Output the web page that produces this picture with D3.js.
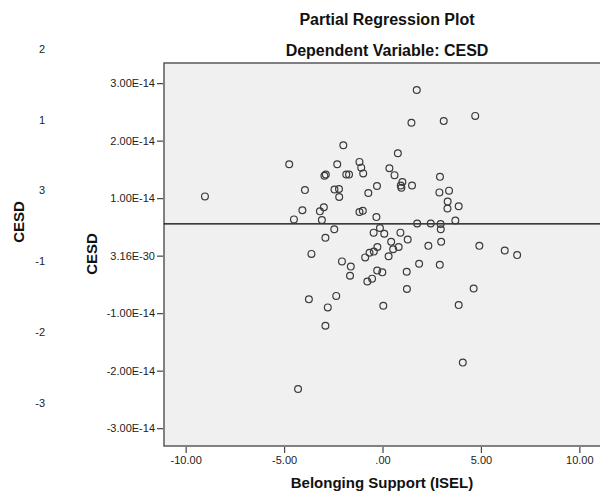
<!DOCTYPE html>
<html>
<head>
<meta charset="utf-8">
<script src="https://cdn.jsdelivr.net/npm/d3@7"></script>
<style>
  html, body { margin: 0; padding: 0; background: #fff; }
  svg { display: block; font-family: "Liberation Sans", Arial, sans-serif; }
</style>
</head>
<body>
<svg id="chart" width="600" height="495"></svg>
<script>
// Partial regression of CESD on Belonging Support (ISEL).
// Residual values: x in ISEL units, y in units of 1e-14.
const iselResid = [
  -9.02, -4.74, -4.50, -4.07, -3.94, -3.61, -3.74, -4.29, -3.18, -3.08,
  -2.98, -2.95, -2.88, -2.90, -2.90, -2.78, -2.45, -2.44, -2.21, -2.20,
  -2.35, -2.30, -2.06, -1.99, -1.84, -1.70, -1.61, -1.65, -1.17, -1.08,
  -0.98, -1.17, -1.00, -0.88, -0.66, -0.44, -0.26, -0.77, -0.53, -0.27,
  -0.01, -0.72, -0.28, -0.31, -0.45, -0.13, 0.09, 0.04, 0.31, 0.35,
  0.44, 0.54, 0.82, 0.61, 0.78, 0.91, 1.01, 0.93, 0.96, 1.28,
  1.23, 1.24, 1.47, 1.50, 1.74, 1.76, 1.86, 2.33, 2.45, 2.92,
  2.89, 2.95, 2.96, 2.98, 2.91, 3.11, 3.31, 3.30, 3.38, 3.70,
  3.87, 3.87, 4.08, 4.63, 4.71, 4.92, 6.21, 6.84
];
const cesdResid = [
  1.03, 1.59, 0.63, 0.79, 1.14, 0.03, -0.76, -2.32, 0.77, 0.62,
  0.84, 1.39, 1.41, 0.31, -1.22, -0.90, 0.46, 1.15, 1.16, 1.02,
  -0.70, 1.59, -0.10, 1.92, 1.41, 1.41, -0.19, -0.35, 1.63, 1.53,
  1.43, 0.76, 0.78, -0.03, 0.05, 0.07, 0.15, -0.45, -0.40, -0.26,
  -0.29, 1.09, 1.21, 0.67, 0.40, 0.48, 0.38, -0.87, -0.01, 1.52,
  0.24, 0.11, 0.15, 1.40, 1.78, 0.40, 1.28, 1.22, 1.18, 0.28,
  -0.28, -0.58, 2.31, 1.22, 2.88, 0.56, -0.14, 0.17, 0.56, 1.37,
  1.10, 0.55, 0.46, 0.24, -0.16, 2.34, 0.94, 0.82, 1.13, 0.61,
  0.86, -0.86, -1.86, -0.57, 2.43, 0.17, 0.09, 0.01
];
// Fitted line (slope ~0) in the same 1e-14 units.
const fitSlope = 0;
const fitIntercept = 0.553;

const xTickValues = [-10, -5, 0, 5, 10];
const xTickLabels = ["-10.00", "-5.00", ".00", "5.00", "10.00"];
const yTickValues = [3, 2, 1, 0, -1, -2, -3];
const yTickLabels = ["3.00E-14", "2.00E-14", "1.00E-14", "3.16E-30", "-1.00E-14", "-2.00E-14", "-3.00E-14"];
const outerAxisLabels = ["2", "1", "3", "-1", "-2", "-3"];

const svg = d3.select("#chart");
const plot = { left: 164, top: 63, right: 601, bottom: 446 };

const x = d3.scaleLinear().domain([-11.1, 11.1]).range([plot.left, plot.right]);
const y = d3.scaleLinear().domain([-3.31, 3.35]).range([plot.bottom, plot.top]);

// Plot panel
svg.append("rect")
  .attr("x", plot.left).attr("y", plot.top)
  .attr("width", plot.right - plot.left).attr("height", plot.bottom - plot.top)
  .attr("fill", "#f0f0f0")
  .attr("stroke", "#5a5a5a").attr("stroke-width", 1.5);

// Titles
svg.append("text").attr("x", 387).attr("y", 25)
  .attr("text-anchor", "middle").attr("font-size", 16).attr("font-weight", "bold")
  .attr("fill", "#111").text("Partial Regression Plot");
svg.append("text").attr("x", 387).attr("y", 56)
  .attr("text-anchor", "middle").attr("font-size", 16).attr("font-weight", "bold")
  .attr("fill", "#111").text("Dependent Variable: CESD");

// Y axis
const yAxis = d3.axisLeft(y)
  .tickValues(yTickValues)
  .tickFormat((d, i) => yTickLabels[i])
  .tickSize(6).tickPadding(2);
const gy = svg.append("g").attr("transform", `translate(${plot.left - 1},0)`).call(yAxis);
gy.select(".domain").remove();
gy.selectAll(".tick line").attr("stroke", "#444").attr("stroke-width", 1.2);
gy.selectAll(".tick text").attr("font-size", 11).attr("fill", "#222")
  .attr("font-family", "'Liberation Sans', Arial, sans-serif");

// X axis
const xAxis = d3.axisBottom(x)
  .tickValues(xTickValues)
  .tickFormat((d, i) => xTickLabels[i])
  .tickSize(6).tickPadding(3);
const gx = svg.append("g").attr("transform", `translate(0,${plot.bottom + 1})`).call(xAxis);
gx.select(".domain").remove();
gx.selectAll(".tick line").attr("stroke", "#444").attr("stroke-width", 1.2);
gx.selectAll(".tick text").attr("font-size", 11).attr("fill", "#222")
  .attr("font-family", "'Liberation Sans', Arial, sans-serif");

// Axis titles
svg.append("text").attr("x", 382).attr("y", 488)
  .attr("text-anchor", "middle").attr("font-size", 15).attr("font-weight", "bold")
  .attr("fill", "#111").text("Belonging Support (ISEL)");
svg.append("text")
  .attr("transform", "translate(97,254) rotate(-90)")
  .attr("text-anchor", "middle").attr("font-size", 15).attr("font-weight", "bold")
  .attr("fill", "#111").text("CESD");

// Outer CESD axis labels
const outer = d3.scalePoint().domain(outerAxisLabels).range([49, 403]);
svg.append("g").selectAll("text").data(outerAxisLabels).join("text")
  .attr("x", 45).attr("y", d => outer(d)).attr("dy", "0.35em")
  .attr("text-anchor", "end").attr("font-size", 11).attr("fill", "#222")
  .text(d => d);
svg.append("text")
  .attr("transform", "translate(24,222) rotate(-90)")
  .attr("text-anchor", "middle").attr("font-size", 15).attr("font-weight", "bold")
  .attr("fill", "#111").text("CESD");

// Fit line
const clip = svg.append("clipPath").attr("id", "plot-clip").append("rect")
  .attr("x", plot.left).attr("y", plot.top)
  .attr("width", plot.right - plot.left).attr("height", plot.bottom - plot.top);
const xd = x.domain();
svg.append("line")
  .attr("clip-path", "url(#plot-clip)")
  .attr("x1", x(xd[0])).attr("x2", x(xd[1]))
  .attr("y1", y(fitIntercept + fitSlope * xd[0]))
  .attr("y2", y(fitIntercept + fitSlope * xd[1]))
  .attr("stroke", "#000").attr("stroke-width", 1.2);

// Points
const points = iselResid.map((v, i) => ({ x: v, y: cesdResid[i] }));
svg.append("g").selectAll("circle").data(points).join("circle")
  .attr("cx", d => x(d.x)).attr("cy", d => y(d.y)).attr("r", 3.4)
  .attr("fill", "none").attr("stroke", "#3a3a3a").attr("stroke-width", 1.2);
</script>
</body>
</html>
